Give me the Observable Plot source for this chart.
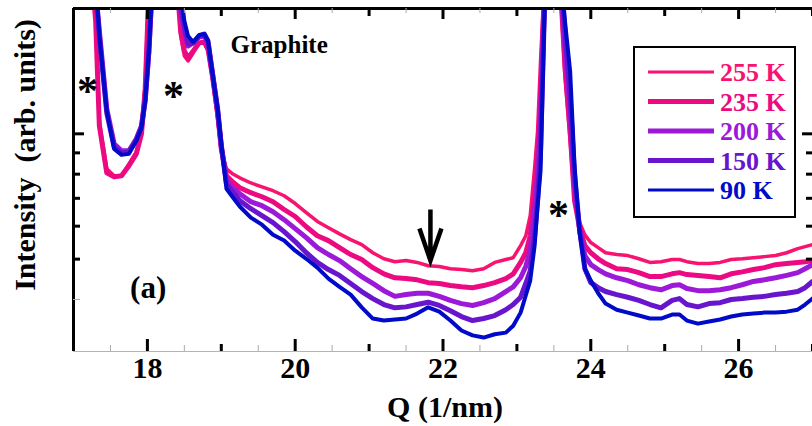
<!DOCTYPE html>
<html><head><meta charset="utf-8">
<script src="https://cdn.jsdelivr.net/npm/d3@7"></script>
<script src="https://cdn.jsdelivr.net/npm/@observablehq/plot@0.6"></script>
<style>body{margin:0;background:#fff;}</style>
</head><body><div id="chart"></div>
<script>
const q = [17.0, 17.2, 17.3, 17.35, 17.45, 17.55, 17.65, 17.75, 17.85, 17.92,
17.97, 18.02, 18.1, 18.35, 18.45, 18.5, 18.55, 18.62, 18.7, 18.77,
18.82, 18.88, 18.95, 19.0, 19.07, 19.15, 19.25, 19.4, 19.55, 19.7,
19.85, 20.0, 20.15, 20.3, 20.45, 20.6, 20.75, 20.9, 21.05, 21.2,
21.35, 21.5, 21.65, 21.8, 21.95, 22.1, 22.25, 22.4, 22.55, 22.7,
22.85, 22.95, 23.05, 23.12, 23.18, 23.24, 23.28, 23.32, 23.4, 23.55,
23.65, 23.72, 23.78, 23.85, 23.92, 24.0, 24.1, 24.2, 24.35, 24.5,
24.65, 24.8, 24.95, 25.1, 25.2, 25.3, 25.45, 25.6, 25.75, 25.9,
26.05, 26.2, 26.35, 26.5, 26.65, 26.8, 26.9, 27.0];

const i255 = [3000, 3000, 1918, 1074, 824, 793, 793, 847, 905, 1017,
1318, 2300, 3000, 3000, 1718, 1538, 1496, 1564, 1653, 1653,
1581, 1355, 1086, 910, 824, 802, 784, 762, 746, 730,
710, 680, 647, 616, 595, 575, 557, 542, 518, 501,
493, 496, 491, 482, 480, 474, 472, 469, 474, 491,
499, 504, 539, 569, 636, 829, 1017, 1496, 3000, 3000,
1377, 962, 691, 612, 572, 548, 533, 518, 513, 510,
501, 491, 493, 499, 499, 493, 488, 488, 491, 499,
501, 504, 507, 510, 518, 530, 536, 542];

const i235 = [3000, 3000, 1866, 1045, 806, 788, 793, 838, 895, 1000,
1282, 2200, 3000, 3000, 1766, 1581, 1521, 1581, 1653, 1662,
1599, 1377, 1123, 920, 793, 767, 742, 722, 706, 687,
658, 633, 598, 569, 554, 533, 513, 499, 477, 461,
451, 449, 446, 439, 437, 432, 429, 427, 432, 439,
449, 461, 491, 518, 569, 710, 861, 1200, 3000, 3000,
1455, 1017, 691, 592, 539, 518, 501, 488, 474, 472,
464, 454, 454, 461, 464, 459, 457, 454, 451, 461,
466, 472, 477, 485, 488, 491, 493, 496];

const i200 = [3000, 3000, 2203, 1766, 1148, 946, 910, 910, 973, 1045,
1213, 1581, 3000, 3000, 1972, 1766, 1625, 1653, 1708, 1718,
1653, 1400, 1135, 936, 771, 742, 718, 687, 672, 650,
622, 592, 563, 533, 513, 496, 474, 454, 437, 420,
407, 411, 414, 414, 407, 398, 391, 387, 393, 402,
418, 429, 451, 480, 524, 654, 793, 1074, 3000, 3000,
1625, 1135, 750, 585, 510, 485, 472, 461, 451, 444,
434, 427, 422, 432, 434, 425, 420, 420, 422, 427,
434, 442, 446, 451, 457, 464, 474, 485];

const i150 = [3000, 3000, 2203, 1718, 1123, 930, 900, 905, 967, 1040,
1200, 1581, 3000, 3000, 2027, 1815, 1643, 1653, 1718, 1737,
1671, 1400, 1148, 936, 758, 726, 691, 661, 636, 612,
582, 551, 518, 491, 472, 457, 437, 418, 402, 389,
382, 384, 389, 394, 387, 376, 364, 356, 360, 366,
378, 389, 405, 437, 469, 569, 691, 910, 3000, 3000,
1766, 1233, 793, 585, 474, 439, 427, 418, 411, 405,
398, 389, 382, 398, 402, 389, 384, 391, 393, 400,
402, 405, 407, 411, 414, 418, 427, 442];

const i90 = [3000, 3000, 2328, 1718, 1135, 920, 890, 895, 962, 1034,
1200, 1581, 3000, 3000, 2203, 1866, 1718, 1662, 1727, 1737,
1671, 1400, 1148, 946, 738, 706, 669, 629, 605, 572,
554, 524, 501, 477, 449, 429, 411, 383, 360, 356,
358, 360, 370, 383, 374, 356, 337, 328, 324, 330,
333, 346, 372, 409, 444, 539, 672, 815, 3000, 3000,
1866, 1416, 838, 576, 474, 444, 414, 391, 378, 372,
366, 360, 360, 368, 368, 356, 350, 354, 358, 364,
368, 370, 372, 372, 374, 378, 389, 402];

const labels = ["255 K", "235 K", "200 K", "150 K", "90 K"];
const colors = ["#f7136f", "#ec0a82", "#9b19d7", "#6914cd", "#000ac8"];
const lineWidths = [3.5, 5, 5, 5, 4];
const legendWidths = [3, 5, 5, 5, 3];
const values = [i255, i235, i200, i150, i90];

const xMajor = [18, 20, 22, 24, 26];
const xMid = [17, 19, 21, 23, 25, 27];
const xMinor = [17.5, 18.5, 19.5, 20.5, 21.5, 22.5, 23.5, 24.5, 25.5, 26.5];
const yMajor = [1000];
const yMinor = [900, 800, 700, 600, 500];
const yFaint = [400];

const starQ = [17.19, 18.353, 23.563];
const starI = [1282, 1247, 647];
const graphiteQ = [19.125], graphiteI = [1634];
const panelQ = [18.01], panelI = [427];
const arrowQ = [21.83];
const arrowI = [658];

const W = 812, H = 426, mt = 8, mb = 75, ml = 73, mr = 0;
const innerH = H - mt - mb, innerW = W - ml - mr;
const FONT = "'Liberation Serif', 'Times New Roman', serif";

const arrowShape = {
  draw(context, l, r) {
    context.moveTo(0, 0); context.lineTo(0, -l);
    context.moveTo(-r, -l + 2.9 * r); context.lineTo(0, -l); context.lineTo(r, -l + 2.9 * r);
  }
};

const curveMarks = values.map((v, k) =>
  Plot.line(q.map((Q, j) => ({Q, I: v[j]})), {
    x: "Q", y: "I", stroke: colors[k], strokeWidth: lineWidths[k], clip: true, strokeLinejoin: "round"
  }));

const plot = Plot.plot({
  width: W, height: H, marginTop: mt, marginBottom: mb, marginLeft: ml, marginRight: mr,
  x: {domain: [17, 27]},
  y: {type: "log", domain: [300, 2000], axis: null},
  style: {fontFamily: FONT, background: "white", color: "black"},
  marks: [
    Plot.ruleY([300], {stroke: "#b4b4b4", strokeWidth: 1.2}),
    ...curveMarks,
    Plot.ruleY([2000], {stroke: "black", strokeWidth: 3}),
    Plot.ruleX([17], {stroke: "black", strokeWidth: 3}),
    Plot.tickX(xMajor, {x: d => d, insetTop: innerH - 12, strokeWidth: 3}),
    Plot.tickX(xMid, {x: d => d, insetTop: innerH - 7, strokeWidth: 3}),
    Plot.tickX(xMinor, {x: d => d, insetTop: innerH - 6, stroke: "#aaa", strokeWidth: 1}),
    Plot.tickX(xMajor, {x: d => d, insetBottom: innerH - 11, strokeWidth: 3}),
    Plot.tickX(xMid, {x: d => d, insetBottom: innerH - 8, strokeWidth: 3}),
    Plot.tickX(xMinor, {x: d => d, insetBottom: innerH - 5, stroke: "#aaa", strokeWidth: 1}),
    Plot.tickY(yMajor, {y: d => d, insetRight: innerW - 11, strokeWidth: 3}),
    Plot.tickY(yMinor, {y: d => d, insetRight: innerW - 7, strokeWidth: 3}),
    Plot.tickY(yFaint, {y: d => d, insetRight: innerW - 7, stroke: "#aaa", strokeWidth: 1}),
    Plot.tickY(yMajor, {y: d => d, insetLeft: innerW - 10, strokeWidth: 3}),
    Plot.tickY(yMinor, {y: d => d, insetLeft: innerW - 6, strokeWidth: 3}),
    Plot.axisX({ticks: xMajor, tickSize: 0, tickPadding: 5, fontSize: 30, fontWeight: "bold", label: null}),
    Plot.text(starQ.map((Q, j) => ({Q, I: starI[j]})), {x: "Q", y: "I", text: () => "*", fontSize: 42, fontWeight: "bold", dy: 3}),
    Plot.text(graphiteQ.map((Q, j) => ({Q, I: graphiteI[j]})), {x: "Q", y: "I", text: () => "Graphite", fontSize: 25, fontWeight: "bold", textAnchor: "start"}),
    Plot.text(panelQ.map((Q, j) => ({Q, I: panelI[j]})), {x: "Q", y: "I", text: () => "(a)", fontSize: 31, fontWeight: "bold"}),
    Plot.vector(arrowQ.map((Q, j) => ({Q, I: arrowI[j]})), {
      x: "Q", y: "I", length: 51, rotate: 180, anchor: "start", shape: arrowShape, r: 11,
      stroke: "black", strokeWidth: 4.5, strokeLinejoin: "miter", strokeLinecap: "butt"
    })
  ]
});

const svg = d3.select(plot);
const g = svg.append("g").attr("font-family", FONT).attr("font-weight", "bold");
g.append("text").attr("x", 445).attr("y", 417).attr("text-anchor", "middle").attr("font-size", 30).attr("fill", "black").text("Q (1/nm)");
g.append("text").attr("transform", "translate(35,155) rotate(-90)").attr("text-anchor", "middle").attr("font-size", 30).attr("fill", "black").style("white-space", "pre").text("Intensity  (arb. units)");
const legendY = [72, 101.5, 131, 160.5, 190];
g.append("rect").attr("x", 634).attr("y", 47).attr("width", 161).attr("height", 170).attr("fill", "white").attr("stroke", "black").attr("stroke-width", 2);
labels.forEach((lab, k) => {
  g.append("line").attr("x1", 648).attr("x2", 714).attr("y1", legendY[k]).attr("y2", legendY[k]).attr("stroke", colors[k]).attr("stroke-width", legendWidths[k]);
  g.append("text").attr("x", 720).attr("y", legendY[k]).attr("dy", "0.35em").attr("text-anchor", "start").attr("font-size", 26).attr("fill", colors[k]).style("white-space", "pre").text(lab);
});

document.getElementById("chart").appendChild(plot);
</script>
</body></html>
